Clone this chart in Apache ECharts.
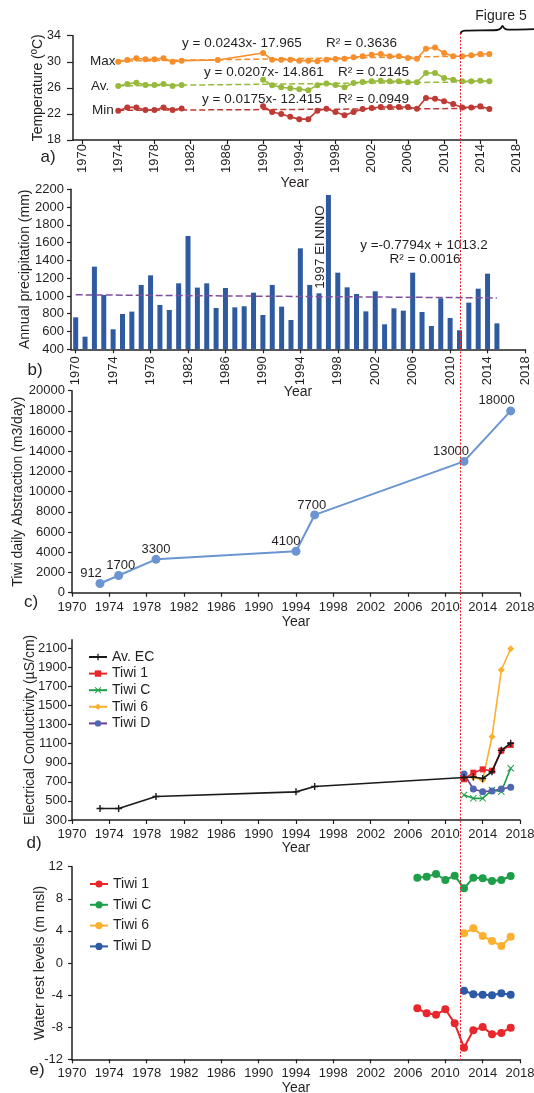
<!DOCTYPE html>
<html>
<head>
<meta charset="utf-8">
<script src="https://cdn.jsdelivr.net/npm/echarts@6/dist/echarts.min.js"></script>
<style>
  html, body { margin: 0; padding: 0; background: #fff; }
  #chart { width: 534px; height: 1093px; }
</style>
</head>
<body>
<div id="chart"></div>
<script>
// ---------- a) air temperature ----------
const tempYears = [1974, 1975, 1976, 1977, 1978, 1979, 1980, 1981, 1985,
  1990, 1991, 1992, 1993, 1994, 1995, 1996, 1997, 1998, 1999,
  2000, 2001, 2002, 2003, 2004, 2005, 2006, 2007, 2008, 2009,
  2010, 2011, 2012, 2013, 2014, 2015];
const tempMax = [30.0, 30.27, 30.53, 30.38, 30.4, 30.53, 30.0, 30.17, 30.27,
  31.35, 30.32, 30.32, 30.32, 30.17, 30.17, 30.07, 30.32, 30.43, 30.48,
  30.69, 30.84, 31.09, 31.19, 30.84, 30.84, 30.58, 30.48, 32.0, 32.2,
  31.35, 30.84, 30.84, 31.0, 31.19, 31.19];
const tempAv = [26.28, 26.59, 26.8, 26.44, 26.44, 26.59, 26.28, 26.44, null,
  27.25, 26.4, 26.1, 25.93, 25.8, 25.65, 26.4, 26.65, 26.45, 26.08,
  26.74, 26.9, 27.0, 27.1, 27.0, 27.0, 26.85, 26.85, 28.28, 28.28,
  27.51, 27.25, 27.0, 27.0, 27.1, 27.0];
const tempMin = [22.5, 23.0, 23.0, 22.6, 22.6, 23.0, 22.6, 22.85, null,
  23.17, 22.3, 22.0, 21.55, 21.2, 21.2, 22.5, 22.8, 22.3, 21.79,
  22.3, 22.76, 22.91, 23.06, 23.06, 23.06, 23.06, 22.8, 24.44, 24.34,
  23.94, 23.53, 23.0, 23.0, 23.17, 22.76];
const tempTrendYears = [1974, 2015];
const tempMaxTrend = [30.1, 30.9];
const tempAvTrend = [26.3, 26.95];
const tempMinTrend = [22.55, 22.85];
const tempTicks = [18, 22, 26, 30, 34];

// ---------- b) annual precipitation ----------
const rainYears = [1970, 1971, 1972, 1973, 1974, 1975, 1976, 1977, 1978, 1979,
  1980, 1981, 1982, 1983, 1984, 1985, 1986, 1987, 1988, 1989,
  1990, 1991, 1992, 1993, 1994, 1995, 1996, 1997, 1998, 1999,
  2000, 2001, 2002, 2003, 2004, 2005, 2006, 2007, 2008, 2009,
  2010, 2011, 2012, 2013, 2014, 2015];
const rainMm = [760, 542, 1330, 1011, 625, 797, 824, 1124, 1232, 899,
  842, 1142, 1675, 1094, 1142, 865, 1090, 872, 884, 1037,
  786, 1124, 880, 730, 1536, 1124, 1030, 2136, 1262, 1097,
  1022, 827, 1052, 681, 861, 835, 1262, 820, 662, 974,
  752, 614, 925, 1082, 1251, 692];
const rainTrendYears = [1970, 2015];
const rainTrend = [1013, 978];
const rainTicks = [400, 600, 800, 1000, 1200, 1400, 1600, 1800, 2000, 2200];

// ---------- c) daily abstraction ----------
const abstrYears = [1973, 1975, 1979, 1994, 1996, 2012, 2017];
const abstrM3 = [912, 1700, 3300, 4100, 7700, 13000, 18000];
const abstrLabelShift = [-9, 2, 0, -10, -3, -13, -14];
const abstrTicks = [0, 2000, 4000, 6000, 8000, 10000, 12000, 14000, 16000, 18000, 20000];

// ---------- d) electrical conductivity ----------
const ecAvYears = [1973, 1975, 1979, 1994, 1996, 2012, 2013, 2014, 2015, 2016, 2017];
const ecAv = [420, 420, 546, 595, 651, 745, 750, 735, 805, 1030, 1105];
const ecWellYears = [2012, 2013, 2014, 2015, 2016, 2017];
const ecTiwi1 = [727, 796, 831, 817, 1027, 1086];
const ecTiwiC = [562, 527, 527, 614, 597, 842];
const ecTiwi6Years = [2013, 2014, 2015, 2016, 2017];
const ecTiwi6 = [748, 719, 1173, 1872, 2095];
const ecTiwiD = [782, 625, 597, 604, 625, 643];
const ecTicks = [300, 500, 700, 900, 1100, 1300, 1500, 1700, 1900, 2100];

// ---------- e) water rest levels ----------
const wlLongYears = [2007, 2008, 2009, 2010, 2011, 2012, 2013, 2014, 2015, 2016, 2017];
const wlTiwi1 = [-5.65, -6.27, -6.44, -5.77, -7.52, -10.55, -8.39, -7.97, -8.89, -8.72, -8.06];
const wlTiwiC = [10.63, 10.76, 11.09, 10.34, 10.88, 9.30, 10.63, 10.55, 10.22, 10.34, 10.84];
const wlShortYears = [2012, 2013, 2014, 2015, 2016, 2017];
const wlTiwi6 = [3.70, 4.32, 3.36, 2.74, 2.12, 3.28];
const wlTiwiD = [-3.45, -3.90, -3.95, -4.03, -3.78, -3.95];
const wlTicks = [-12, -8, -4, 0, 4, 8, 12];

const yearTicks = [1970, 1974, 1978, 1982, 1986, 1990, 1994, 1998, 2002, 2006, 2010, 2014, 2018];

// ---------- styling ----------
const FONT = '"Liberation Sans", Arial, Helvetica, sans-serif';
const TXT = '#231f20';
const AX = '#231f20';
const pairs = (xs, ys) => xs.map((x, i) => [x, ys[i]]);
const plain = v => String(v);

const plusPath = 'path://M4,0H6V4H10V6H6V10H4V6H0V4H4Z';
const crossPath = 'path://M1,0L5,4L9,0L10,1L6,5L10,9L9,10L5,6L1,10L0,9L4,5L0,1Z';

function xAxisFor(gridIndex, min, nameGap, labelExtra) {
  return {
    type: 'value', gridIndex, min, max: 2018,
    axisLine: { show: true, onZero: false, lineStyle: { color: AX, width: 1.5 } },
    axisTick: { show: true, length: 4, customValues: yearTicks, lineStyle: { color: AX, width: 1.2 } },
    axisLabel: Object.assign({ customValues: yearTicks, formatter: plain, fontSize: 13, color: TXT, fontFamily: FONT, margin: 8 }, labelExtra || {}),
    splitLine: { show: false },
    name: 'Year', nameLocation: 'middle', nameGap, nameMoveOverlap: false,
    nameTextStyle: { fontSize: 14, color: TXT, fontFamily: FONT }
  };
}

function yAxisFor(gridIndex, min, max, ticks, name, nameGap, margin, fontSize, tickLen) {
  return {
    type: 'value', gridIndex, min, max,
    axisLine: { show: true, onZero: false, lineStyle: { color: AX, width: 1.5 } },
    axisTick: { show: true, length: tickLen || 4, customValues: ticks, lineStyle: { color: AX, width: 1.2 } },
    axisLabel: { customValues: ticks, formatter: plain, fontSize: fontSize || 13, color: TXT, fontFamily: FONT, margin },
    splitLine: { show: false },
    name, nameLocation: 'middle', nameGap, nameRotate: 90, nameMoveOverlap: false,
    nameTextStyle: { fontSize: 14, color: TXT, fontFamily: FONT }
  };
}

function text(x, y, s, o) {
  o = o || {};
  const align = o.align || 'left';
  const valign = o.valign || 'middle';
  return {
    type: 'text', x, y, rotation: o.rot || 0, z: 50,
    style: {
      text: s, x: 0, y: 0, fill: o.color || TXT,
      font: (o.size || 14) + 'px ' + FONT,
      textAlign: align, textVerticalAlign: valign, align, verticalAlign: valign
    }
  };
}

function lineSeries(name, xi, data, color, o) {
  o = o || {};
  return {
    type: 'line', name, xAxisIndex: xi, yAxisIndex: xi, data,
    symbol: o.symbol || 'circle', symbolSize: o.size || 6,
    showSymbol: o.symbol !== 'none',
    connectNulls: false, animation: false, z: o.z || 3,
    lineStyle: { color: o.lineColor || color, width: o.width || 1.6, type: o.dash || 'solid' },
    itemStyle: { color, borderWidth: 0 },
    emphasis: { disabled: true }
  };
}

const trend = (name, xi, data, color, dash) =>
  lineSeries(name, xi, data, color, { symbol: 'none', dash: dash || [6, 3], width: 1.5, z: 2 });

const cMax = '#f68e2c', cAv = '#98ba3c', cMin = '#bd3a35';
const cBar = '#2f5a9f', cRainTrend = '#7e4e9e', cAbs = '#6a95d1';
const cBlack = '#1a1a1a', cRed = '#e8262b', cGreen = '#1f9e4a', cOrange = '#fbb030';
const cPurple = '#6b3d97', cPurpleDot = '#4f66b1', cBlue = '#2c5aa6';

const abstrData = abstrYears.map((y, i) => ({
  value: [y, abstrM3[i]],
  label: { offset: [abstrLabelShift[i], -10] }
}));

const option = {
  backgroundColor: '#ffffff',
  animation: false,
  grid: [
    { left: 73, top: 35.7, width: 443.5, height: 104.3, outerBoundsMode: 'none' },
    { left: 71, top: 189.3, width: 454, height: 160, outerBoundsMode: 'none' },
    { left: 72, top: 390.7, width: 448, height: 202, outerBoundsMode: 'none' },
    { left: 72, top: 639.7, width: 448, height: 180.3, outerBoundsMode: 'none' },
    { left: 72, top: 866.7, width: 448, height: 192.6, outerBoundsMode: 'none' }
  ],
  xAxis: [
    xAxisFor(0, 1969, 36, { rotate: 90, margin: 4 }),
    xAxisFor(1, 1969.5, 36, { rotate: 90, margin: 7 }),
    xAxisFor(2, 1970, 22),
    xAxisFor(3, 1970, 21),
    xAxisFor(4, 1970, 22)
  ],
  yAxis: [
    yAxisFor(0, 18, 34, tempTicks, 'Temperature (ºC)', 28, 12, 12.5, 6),
    yAxisFor(1, 400, 2200, rainTicks, 'Annual precipitation (mm)', 39, 7),
    yAxisFor(2, 0, 20000, abstrTicks, 'Tiwi daily Abstraction (m3/day)', 47, 7),
    yAxisFor(3, 300, 2190, ecTicks, 'Electrical Conductivity (µS/cm)', 35, 5),
    yAxisFor(4, -12, 12, wlTicks, 'Water rest levels (m msl)', 25, 9)
  ],
  legend: [
    {
      orient: 'vertical', left: 88, top: 650, padding: 0,
      itemWidth: 18, itemHeight: 8, itemGap: 2.6, selectedMode: false,
      textStyle: { fontSize: 14, color: TXT, fontFamily: FONT },
      formatter: n => n.split(':')[1],
      data: [
        { name: 'ec:Av. EC' },
        { name: 'ec:Tiwi 1' },
        { name: 'ec:Tiwi C' },
        { name: 'ec:Tiwi 6' },
        { name: 'ec:Tiwi D', itemStyle: { color: cPurpleDot }, lineStyle: { color: cPurple } }
      ]
    },
    {
      orient: 'vertical', left: 89, top: 877, padding: 0,
      itemWidth: 18, itemHeight: 9, itemGap: 6.8, selectedMode: false,
      textStyle: { fontSize: 14, color: TXT, fontFamily: FONT },
      formatter: n => n.split(':')[1],
      data: [{ name: 'wl:Tiwi 1' }, { name: 'wl:Tiwi C' }, { name: 'wl:Tiwi 6' }, { name: 'wl:Tiwi D' }]
    }
  ],
  series: [
    // a) temperature records and their linear trends
    trend('Max trend', 0, pairs(tempTrendYears, tempMaxTrend), cMax),
    trend('Av. trend', 0, pairs(tempTrendYears, tempAvTrend), cAv),
    trend('Min trend', 0, pairs(tempTrendYears, tempMinTrend), cMin),
    lineSeries('Max', 0, pairs(tempYears, tempMax), cMax),
    lineSeries('Av.', 0, pairs(tempYears, tempAv), cAv),
    lineSeries('Min', 0, pairs(tempYears, tempMin), cMin),

    // b) yearly rainfall bars with trend
    {
      type: 'bar', name: 'Rainfall', xAxisIndex: 1, yAxisIndex: 1,
      data: pairs(rainYears, rainMm), barWidth: 5,
      itemStyle: { color: cBar }, animation: false, emphasis: { disabled: true }
    },
    trend('Rain trend', 1, pairs(rainTrendYears, rainTrend), cRainTrend, [7, 3]),

    // c) well field abstraction
    {
      type: 'line', name: 'Abstraction', xAxisIndex: 2, yAxisIndex: 2,
      data: abstrData, symbol: 'circle', symbolSize: 9,
      lineStyle: { color: cAbs, width: 2 }, itemStyle: { color: cAbs },
      label: {
        show: true, position: 'inside', fontSize: 13, color: TXT, fontFamily: FONT,
        formatter: p => String(p.value[1])
      },
      animation: false, emphasis: { disabled: true }
    },

    // d) electrical conductivity
    lineSeries('ec:Tiwi 6', 3, pairs(ecTiwi6Years, ecTiwi6), cOrange, { symbol: 'diamond', size: 7 }),
    lineSeries('ec:Tiwi C', 3, pairs(ecWellYears, ecTiwiC), cGreen, { symbol: crossPath, size: 7 }),
    lineSeries('ec:Tiwi D', 3, pairs(ecWellYears, ecTiwiD), cPurpleDot, { lineColor: cPurple, size: 7 }),
    lineSeries('ec:Tiwi 1', 3, pairs(ecWellYears, ecTiwi1), cRed, { symbol: 'rect', size: 6 }),
    lineSeries('ec:Av. EC', 3, pairs(ecAvYears, ecAv), cBlack, { symbol: plusPath, size: 7, z: 4 }),

    // e) water rest levels
    lineSeries('wl:Tiwi 1', 4, pairs(wlLongYears, wlTiwi1), cRed, { size: 8, width: 2 }),
    lineSeries('wl:Tiwi C', 4, pairs(wlLongYears, wlTiwiC), cGreen, { size: 8, width: 2 }),
    lineSeries('wl:Tiwi 6', 4, pairs(wlShortYears, wlTiwi6), cOrange, { size: 8, width: 2 }),
    lineSeries('wl:Tiwi D', 4, pairs(wlShortYears, wlTiwiD), cBlue, { size: 8, width: 2 })
  ],
  graphic: {
    elements: [
      // panel letters
      text(48, 157.5, 'a)', { size: 17, align: 'center' }),
      text(35, 370, 'b)', { size: 17, align: 'center' }),
      text(31, 602.5, 'c)', { size: 17, align: 'center' }),
      text(34, 843, 'd)', { size: 17, align: 'center' }),
      text(37, 1070.5, 'e)', { size: 17, align: 'center' }),

      // temperature series names
      text(90, 61, 'Max', { size: 13.5 }),
      text(91, 86, 'Av.', { size: 13.5 }),
      text(92, 110.5, 'Min', { size: 13.5 }),

      // trend equations
      text(182, 43, 'y = 0.0243x- 17.965', { size: 13.5 }),
      text(326, 43, 'R² = 0.3636', { size: 13.5 }),
      text(204, 72, 'y = 0.0207x- 14.861', { size: 13.5 }),
      text(338, 72, 'R² = 0.2145', { size: 13.5 }),
      text(202, 99, 'y = 0.0175x- 12.415', { size: 13.5 }),
      text(338, 99, 'R² = 0.0949', { size: 13.5 }),
      text(424, 245, 'y =-0.7794x + 1013.2', { size: 13.5, align: 'center' }),
      text(425, 259.5, 'R² = 0.0016', { size: 13.5, align: 'center' }),

      // El Niño note beside the 1997 bar
      text(320, 247, '1997 El NINO', { size: 13.5, align: 'center', rot: Math.PI / 2 }),

      // figure reference bracket
      text(501, 16, 'Figure 5', { size: 14, align: 'center' }),
      {
        type: 'polyline', z: 60,
        shape: {
          points: [[460.5, 34], [461.5, 31.8], [465, 30.6], [497, 30], [500.5, 28.5],
                   [502.5, 26], [504.5, 28.5], [508, 29.6], [534, 29.2]],
          smooth: 0.3
        },
        style: { stroke: '#111', lineWidth: 1.8, fill: null }
      },

      // reference year marker across all panels
      {
        type: 'line', z: 100,
        shape: { x1: 460.5, y1: 33, x2: 460.5, y2: 1060 },
        style: { stroke: '#e8262b', lineWidth: 1, lineDash: [2, 1.5] }
      }
    ]
  }
};

const chart = echarts.init(document.getElementById('chart'), null, { renderer: 'canvas' });
chart.setOption(option);
</script>
</body>
</html>
